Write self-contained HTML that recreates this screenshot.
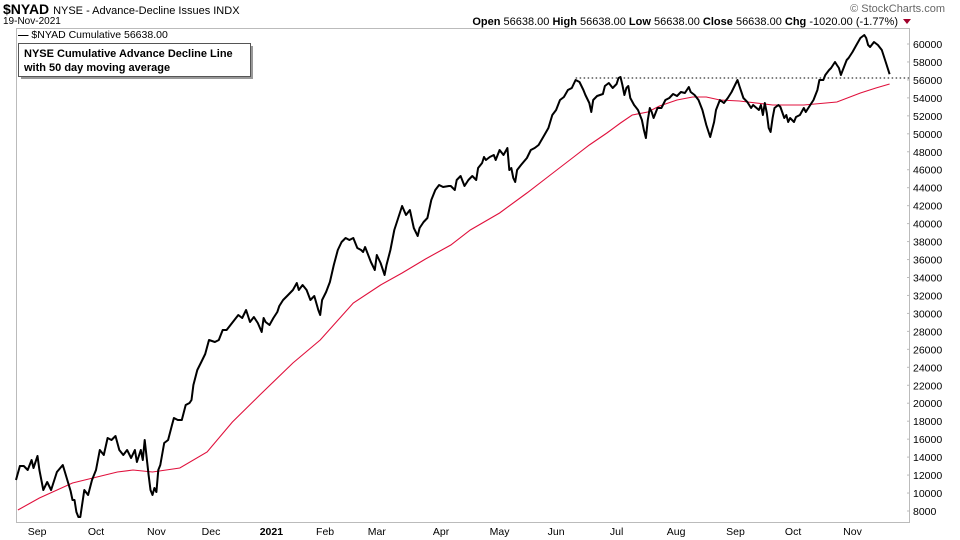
<!DOCTYPE html>
<html><head><meta charset="utf-8">
<style>
body{margin:0;background:#fff;font-family:"Liberation Sans",Arial,sans-serif;}
#wrap{position:relative;width:960px;height:540px;overflow:hidden;}
svg text{font-family:"Liberation Sans",Arial,sans-serif;}
</style></head>
<body>
<div id="wrap">
<svg id="chart" width="960" height="540">
  <text x="3" y="14" font-size="14" font-weight="bold">$NYAD <tspan font-size="11" font-weight="normal">NYSE - Advance-Decline Issues INDX</tspan></text>
  <text x="3" y="24" font-size="10">19-Nov-2021</text>
  <text x="945" y="12" font-size="11" fill="#666" text-anchor="end">© StockCharts.com</text>
  <text x="898" y="25" font-size="11" text-anchor="end"><tspan font-weight="bold">Open</tspan> 56638.00 <tspan font-weight="bold">High</tspan> 56638.00 <tspan font-weight="bold">Low</tspan> 56638.00 <tspan font-weight="bold">Close</tspan> 56638.00 <tspan font-weight="bold">Chg</tspan> -1020.00 (-1.77%)</text>
  <path d="M903,19 L911,19 L907,24 Z" fill="#a0002a"/>
  <g id="frame">
    <line x1="16" y1="28.5" x2="910" y2="28.5" stroke="#bbb"/>
    <line x1="16.5" y1="28" x2="16.5" y2="523" stroke="#bbb"/>
    <line x1="909.5" y1="28" x2="909.5" y2="523" stroke="#bbb"/>
    <line x1="16" y1="522.5" x2="910" y2="522.5" stroke="#bbb"/>
  </g>
  <g id="yaxis"></g>
  <g id="xaxis"></g>
  <g id="series"></g>
  <text x="18" y="38" font-size="10.5"><tspan font-weight="bold">—</tspan> $NYAD Cumulative 56638.00</text>
  <rect x="21" y="46" width="232" height="33" fill="#999"/>
  <rect x="18.5" y="43.5" width="232" height="33" fill="#fff" stroke="#555"/>
  <text x="24" y="57" font-size="11" font-weight="bold">NYSE Cumulative Advance Decline Line</text>
  <text x="24" y="71" font-size="11" font-weight="bold">with 50 day moving average</text>
</svg>
</div>
<script>
// calendar-day offsets from 20-Aug-2020
const adDays = [0,2,4,6,8,9,11,12,14,16,18,21,24,26,28,29,30,31,32,33,35,37,39,41,43,45,47,49,51,53,55,57,59,61,62,64,65,66,68,69,70,71,72,73,74,76,78,80,81,83,85,87,89,90,91,93,95,97,99,102,104,106,108,110,112,114,116,118,120,122,124,126,127,128,130,132,134,135,137,139,142,144,145,147,149,151,153,155,156,157,159,161,163,165,167,169,171,173,175,177,178,179,182,184,185,187,189,190,192,194,196,198,200,202,204,206,207,209,211,213,215,217,219,222,223,225,226,228,230,232,234,236,237,239,240,241,243,245,246,248,250,252,253,254,255,256,257,259,262,264,266,268,271,273,275,277,279,281,283,285,287,289,291,292,294,295,296,298,301,302,304,306,308,309,310,311,312,313,314,315,317,319,321,322,323,324,325,326,327,329,331,333,335,337,339,341,343,345,346,348,350,352,354,356,358,359,361,363,365,367,369,370,371,372,373,375,377,378,381,382,383,384,385,386,387,388,389,391,392,394,395,396,397,399,400,402,404,405,407,409,411,412,414,415,417,418,420,421,422,423,424,426,427,429,431,433,435,436,437,438,440,442,444,446,448];
const adValues = [11450,13010,13010,12570,13680,12790,14120,12570,10340,11230,10340,12340,13120,11670,10230,9220,9220,7890,7330,7330,10340,9780,11450,12570,14790,14240,16130,15910,16350,14790,14240,14790,13900,14790,13460,14790,13680,15910,12010,10340,9780,10560,10120,12570,13120,15570,15910,17580,18360,18130,18130,19800,20030,20360,22030,23700,24590,25480,27040,26820,27040,28150,28150,28710,29270,29820,29490,30380,29050,29600,28930,27930,29490,29050,28710,29490,30160,30830,31490,31940,32610,33390,32610,33170,32610,31490,31940,30380,29820,31490,32390,33500,35390,37060,37950,38400,38180,38400,37290,37060,36840,37400,35730,34840,36510,35610,34280,35390,37060,39290,40630,41960,40960,41520,39510,38620,39510,40180,40630,42630,43740,44300,44080,44190,44190,43740,44860,45300,44190,44860,45300,44860,46190,46750,47420,47080,47420,47640,47080,48200,47640,48420,45970,46190,45080,44630,45970,46530,47310,48200,48420,48750,49870,50650,52090,52650,53760,54100,54880,55100,55990,55770,54880,54320,53430,52430,53760,54210,54430,55320,55660,55100,55550,56210,56330,55440,54320,55100,55320,53990,53210,52650,51540,50420,49530,51540,52870,52430,51760,52870,52870,53760,53990,54430,54210,54660,54540,55210,54660,54320,53760,52650,50980,49640,51320,52650,53760,53430,53990,54660,55550,55990,55320,54660,53990,53540,52870,53210,52650,53210,52090,53430,52320,50650,50200,51760,52870,53210,52990,51760,52090,51320,51760,51320,51870,52090,52870,52430,53100,53760,54880,55990,55990,56550,57110,57330,58000,57660,57330,56550,57110,58220,58440,59110,59890,60670,61000,60670,59890,59670,60220,59890,59330,58000,56638];
const maDays = [1,12,29,52,60,70,84,98,111,125,142,156,173,187,198,210,223,233,248,262,274,286,294,303,310,316,324,330,339,347,354,361,371,388,404,421,433,441,448];
const maValues = [8110,9450,11120,12340,12570,12340,12790,14570,17910,20920,24480,27040,31160,33170,34500,36060,37620,39290,41180,43410,45410,47420,48750,50090,51200,52090,52430,53100,53760,54100,54100,53760,53650,53210,53210,53540,54540,55100,55550];
const yTicks = [8000,10000,12000,14000,16000,18000,20000,22000,24000,26000,28000,30000,32000,34000,36000,38000,40000,42000,44000,46000,48000,50000,52000,54000,56000,58000,60000];
const monthLabels = ["Sep","Oct","Nov","Dec","2021","Feb","Mar","Apr","May","Jun","Jul","Aug","Sep","Oct","Nov"];
const monthDays = [10.8,41,72,100,131,158.5,185,218,248,277,308,338.5,369,398.5,429];
const resistanceLevel = [56210];
const resistanceStartDay = [287];

const NS="http://www.w3.org/2000/svg";
const X0=16, XPD=1.95, Y0=511, YPV=0.0089808;
function xScale(d){return X0+d*XPD;}
function yScale(v){return Y0-(v-8000)*YPV;}
function mk(tag,attrs,parent){const e=document.createElementNS(NS,tag);for(const k in attrs)e.setAttribute(k,attrs[k]);parent.appendChild(e);return e;}

const ya=document.getElementById('yaxis');
yTicks.forEach(v=>{
  const t=mk('text',{x:913,y:(yScale(v)+4).toFixed(1),'font-size':'10.5',fill:'#000'},ya);
  
  
  t.textContent=v;
  const l=mk('line',{x1:907,x2:910,y1:yScale(v),y2:yScale(v),stroke:'#bbb'},ya);
  
  
});
const xa=document.getElementById('xaxis');
monthLabels.forEach((m,i)=>{
  const t=mk('text',{x:xScale(monthDays[i]).toFixed(1),y:535,'font-size':'10.5','text-anchor':'middle','font-weight':m==='2021'?'bold':'normal'},xa);
  
  
  t.textContent=m;
});
const s=document.getElementById('series');
const res=mk('line',{x1:xScale(resistanceStartDay[0]),x2:909,y1:yScale(resistanceLevel[0]),y2:yScale(resistanceLevel[0]),stroke:'#000','stroke-dasharray':'1.5,2.5','stroke-width':1},s);


const maPath=mk('polyline',{points:maDays.map((d,i)=>xScale(d).toFixed(1)+','+yScale(maValues[i]).toFixed(1)).join(' '),fill:'none',stroke:'#e0103c','stroke-width':1.1},s);


const adPath=mk('polyline',{points:adDays.map((d,i)=>xScale(d).toFixed(1)+','+yScale(adValues[i]).toFixed(1)).join(' '),fill:'none',stroke:'#000','stroke-width':2,'stroke-linejoin':'round'},s);


</script>
</body></html>
